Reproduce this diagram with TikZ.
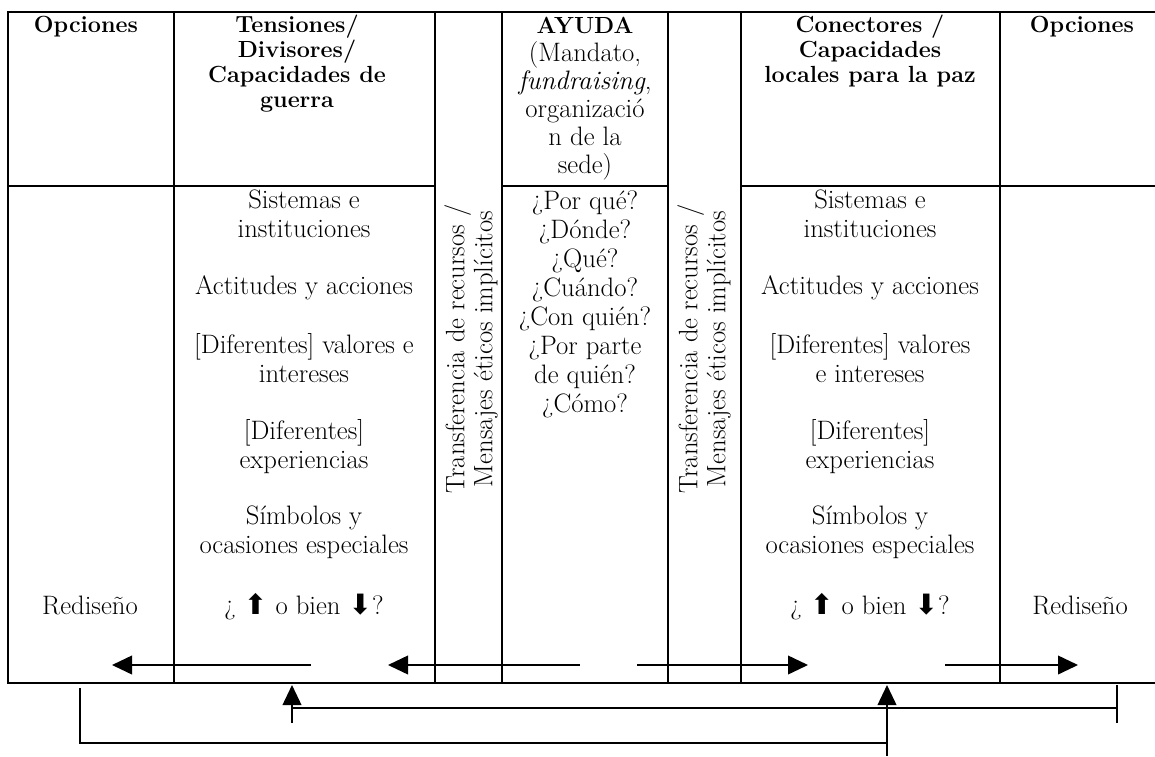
\documentclass[tikz,border=0pt]{standalone}
\usepackage{fontspec}
\newfontfamily\arrowfont{DejaVu Sans}
\usetikzlibrary{arrows.meta}

\tikzset{every picture/.style={line width=0.75pt}}
\tikzset{
  grid/.style={line width=1.6pt},
  conn/.style={line width=1.3pt},
  arr/.style={conn, -{Triangle[length=15pt,width=14pt]}},
  head/.style={anchor=north, inner sep=0pt, align=center, font=\fontsize{17.5}{18.75}\selectfont\bfseries},
  body/.style={anchor=north, inner sep=0pt, align=center, font=\fontsize{20}{21.75}\selectfont},
  side/.style={inner sep=0pt, align=center, rotate=90, font=\fontsize{20}{21}\selectfont},
}
\newcommand{\uparr}{{\arrowfont\fontsize{21}{21}\selectfont ⬆}}
\newcommand{\dnarr}{{\arrowfont\fontsize{21}{21}\selectfont ⬇}}

\begin{document}
\begin{tikzpicture}[x=0.75pt,y=0.75pt,yscale=-1,xscale=1]
        \useasboundingbox (0,0) rectangle (1155,756);
        %Straight Lines (frame)
        \draw [grid] (1155,12) -- (8,12) -- (8,683) -- (1155,683) ;
        %Straight Lines
        \draw [grid] (174,12) -- (174,683) ;
        \draw [grid] (435,12) -- (435,683) ;
        \draw [grid] (502,12) -- (502,683) ;
        \draw [grid] (668,12) -- (668,683) ;
        \draw [grid] (741,12) -- (741,683) ;
        \draw [grid] (1000,12) -- (1000,683) ;
        %Straight Lines (header row)
        \draw [grid] (8,186) -- (435,186) ;
        \draw [grid] (502,186) -- (668,186) ;
        \draw [grid] (741,186) -- (1155,186) ;

        % Text Node
        \draw (86,16) node (optL) [head] {Opciones};
        % Text Node
        \draw (297,15) node (tens) [head] {Tensiones/\\Divisores/\\Capacidades de\\guerra};
        % Text Node
        \draw (585,17) node (ayuda) [body, font=\fontsize{20}{21}\selectfont] {{\fontsize{17.5}{18}\selectfont\bfseries AYUDA}\\(Mandato,\\\textit{fundraising},\\organizació\\n de la\\sede)};
        % Text Node
        \draw (870,15) node (conec) [head] {Conectores /\\Capacidades\\locales para la paz};
        % Text Node
        \draw (1082,16) node (optR) [head] {Opciones};

        % Text Node
        \draw (304,189) node (sisL) [body] {Sistemas e\\instituciones};
        % Text Node
        \draw (304,275) node (actL) [body] {Actitudes y acciones};
        % Text Node
        \draw (304,333) node (valL) [body] {[Diferentes] valores e\\intereses};
        % Text Node
        \draw (304,419) node (expL) [body] {[Diferentes]\\experiencias};
        % Text Node
        \draw (304,505) node (simL) [body] {Símbolos y\\ocasiones especiales};
        % Text Node
        \draw (304,593) node (dirL) [body] {¿ \uparr{} o bien \dnarr?};

        % Text Node
        \draw (585,190) node (preg) [body] {¿Por qué?\\¿Dónde?\\¿Qué?\\¿Cuándo?\\¿Con quién?\\¿Por parte\\de quién?\\¿Cómo?};

        % Text Node
        \draw (870,189) node (sisR) [body] {Sistemas e\\instituciones};
        % Text Node
        \draw (870,275) node (actR) [body] {Actitudes y acciones};
        % Text Node
        \draw (870,333) node (valR) [body] {[Diferentes] valores\\e intereses};
        % Text Node
        \draw (870,419) node (expR) [body] {[Diferentes]\\experiencias};
        % Text Node
        \draw (870,505) node (simR) [body] {Símbolos y\\ocasiones especiales};
        % Text Node
        \draw (870,593) node (dirR) [body] {¿ \uparr{} o bien \dnarr?};

        % Text Node
        \draw (90,595) node (redL) [body] {Rediseño};
        % Text Node
        \draw (1080,595) node (redR) [body] {Rediseño};

        % Text Node
        \draw (471,349) node (transL) [side] {Transferencia de recursos /\\Mensajes éticos implícitos};
        % Text Node
        \draw (704,349) node (transR) [side] {Transferencia de recursos /\\Mensajes éticos implícitos};

        % Arrow ends
        \coordinate (a1s) at (311,665);
        \coordinate (a1e) at (112,665);
        \coordinate (a2s) at (580,665);
        \coordinate (a2e) at (388,665);
        \coordinate (a3s) at (637,665);
        \coordinate (a3e) at (808,665);
        \coordinate (a4s) at (945,665);
        \coordinate (a4e) at (1078,665);
        \coordinate (upL) at (292,723);
        \coordinate (upLtip) at (292,685);
        \coordinate (brL) at (292,708);
        \coordinate (brR) at (1117,708);
        \coordinate (tickT) at (1117,685);
        \coordinate (tickB) at (1117,723);
        \coordinate (upR) at (887,756);
        \coordinate (upRtip) at (887,685);
        \coordinate (lowL) at (80,688);
        \coordinate (lowC) at (80,743);
        \coordinate (lowR) at (887,743);

        %Straight Lines (arrows in table)
        \draw [arr] (a1s) -- (a1e) ;
        \draw [arr] (a2s) -- (a2e) ;
        \draw [arr] (a3s) -- (a3e) ;
        \draw [arr] (a4s) -- (a4e) ;
        %Straight Lines (below table)
        \draw [arr] (upL) -- (upLtip) ;
        \draw [conn] (brL) -- (brR) ;
        \draw [conn] (tickT) -- (tickB) ;
        \draw [arr] (upR) -- (upRtip) ;
        \draw [conn] (lowL) -- (lowC) -- (lowR) ;
\end{tikzpicture}
\end{document}
